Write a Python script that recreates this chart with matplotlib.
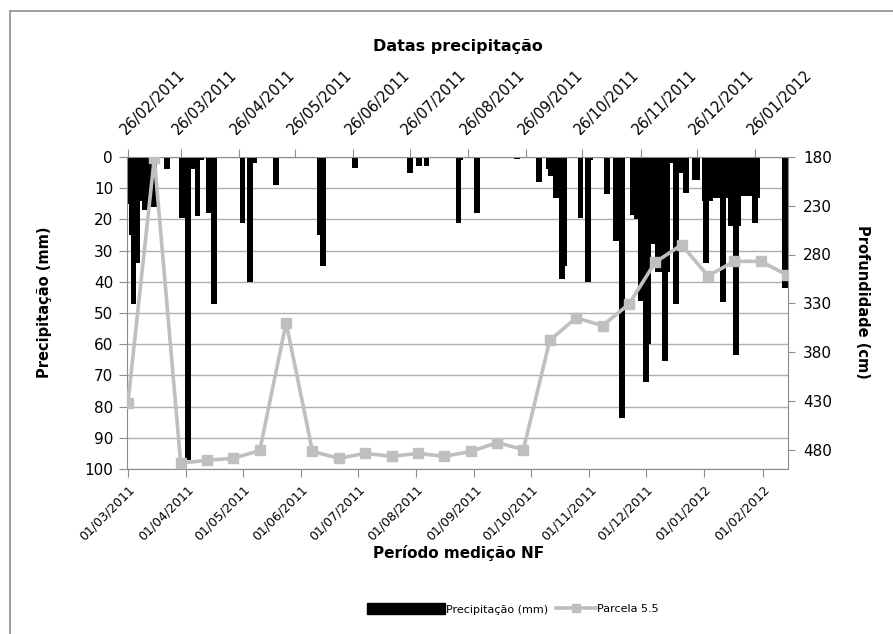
import matplotlib
matplotlib.use("Agg")
import matplotlib.pyplot as plt
import matplotlib.dates as mdates
from matplotlib.patches import Patch, Rectangle
from matplotlib.lines import Line2D
import pandas as pd

plt.rcParams['font.family'] = ['DejaVu Sans']

# precipitação diária (eixo superior / esquerdo)
chuva_datas = [
    "26/02/2011", "27/02/2011", "28/02/2011", "01/03/2011", "02/03/2011", "03/03/2011",
    "04/03/2011", "05/03/2011", "06/03/2011", "07/03/2011", "08/03/2011", "09/03/2011",
    "10/03/2011", "11/03/2011", "12/03/2011", "19/03/2011", "27/03/2011", "30/03/2011",
    "31/03/2011", "01/04/2011", "02/04/2011", "04/04/2011", "06/04/2011", "10/04/2011",
    "13/04/2011", "28/04/2011", "02/05/2011", "04/05/2011", "16/05/2011", "08/06/2011",
    "10/06/2011", "27/06/2011", "26/07/2011", "31/07/2011", "04/08/2011", "21/08/2011",
    "22/08/2011", "31/08/2011", "21/09/2011", "03/10/2011", "08/10/2011", "09/10/2011",
    "12/10/2011", "15/10/2011", "16/10/2011", "25/10/2011", "29/10/2011", "30/10/2011",
    "08/11/2011", "13/11/2011", "16/11/2011", "22/11/2011", "23/11/2011", "24/11/2011",
    "26/11/2011", "27/11/2011", "29/11/2011", "30/11/2011", "02/12/2011", "03/12/2011",
    "04/12/2011", "05/12/2011", "06/12/2011", "07/12/2011", "09/12/2011", "10/12/2011",
    "12/12/2011", "13/12/2011", "15/12/2011", "16/12/2011", "17/12/2011", "18/12/2011",
    "20/12/2011", "25/12/2011", "26/12/2011", "30/12/2011", "31/12/2011", "02/01/2012",
    "05/01/2012", "06/01/2012", "07/01/2012", "08/01/2012", "09/01/2012", "10/01/2012",
    "13/01/2012", "14/01/2012", "16/01/2012", "17/01/2012", "18/01/2012", "20/01/2012",
    "21/01/2012", "22/01/2012", "23/01/2012", "26/01/2012", "27/01/2012", "11/02/2012",
    "12/02/2012",
]
chuva_mm = [
    10, 15, 25, 47, 30, 34,
    14, 10, 10, 17, 17, 12,
    12, 16, 16, 4, 19.5, 97,
    2, 4, 2, 19, 1, 18,
    47, 21, 40, 2, 9, 25,
    35, 3.5, 5, 3, 3, 21,
    1, 18, 0.5, 8, 4, 6,
    13, 39, 35, 19.6, 40, 1,
    12, 27, 83.6, 18.5, 18, 20,
    46, 20, 72, 60, 28, 18,
    20, 37, 37, 20, 65.5, 37,
    2, 2, 47, 2, 2, 5,
    11.5, 7.5, 7.5, 14, 34, 14,
    13, 13, 13, 13, 46.5, 13,
    22, 12, 63.6, 22, 12.5, 12.5,
    11.5, 12.5, 12.5, 21, 13, 42,
    12,
]

# nível freático, Parcela 5.5 (eixo inferior / direito)
nf_datas = [
    "01/03/2011", "15/03/2011", "29/03/2011", "12/04/2011", "26/04/2011", "10/05/2011",
    "24/05/2011", "07/06/2011", "21/06/2011", "05/07/2011", "19/07/2011", "02/08/2011",
    "16/08/2011", "30/08/2011", "13/09/2011", "27/09/2011", "11/10/2011", "25/10/2011",
    "08/11/2011", "22/11/2011", "06/12/2011", "20/12/2011", "03/01/2012", "17/01/2012",
    "31/01/2012", "14/02/2012",
]
parcela_55 = [
    432, 181, 494, 491, 489, 481,
    350, 482, 489, 484, 487, 484,
    487, 482, 473, 480, 368, 345,
    353, 331, 288, 270, 302, 287,
    287, 301,
]

chuva_x = pd.to_datetime(chuva_datas, format="%d/%m/%Y")
nf_x = pd.to_datetime(nf_datas, format="%d/%m/%Y")

cinza = "#8c8c8c"
cinza_linha = "#bfbfbf"

fig = plt.figure(figsize=(8.93, 6.34), dpi=100)
rect = [127 / 893, 1 - 469 / 634, (788 - 127) / 893, (469 - 157) / 634]

# barras: eixo x de cima, eixo y da esquerda
ax = fig.add_axes(rect)
meio_dia = pd.Timedelta(hours=12)
ax.bar(chuva_x, chuva_mm, width=3.1, color="black", zorder=2)
ax.set_xlim(chuva_x.min() - meio_dia, chuva_x.max() + meio_dia)
ax.set_ylim(100, 0)
ax.set_yticks(range(0, 101, 10))
ax.yaxis.grid(True, color="#b0b0b0", lw=1)
ax.set_axisbelow(True)
ax.xaxis.tick_top()
ax.xaxis.set_major_locator(mdates.MonthLocator(bymonthday=26))
ax.xaxis.set_major_formatter(mdates.DateFormatter("%d/%m/%Y"))
ax.tick_params(axis="x", which="major", direction="out", length=6, color=cinza,
               labelsize=10.5, pad=8)
ax.tick_params(axis="y", direction="out", length=6, color=cinza, labelsize=11, pad=4)
for lab in ax.get_xticklabels():
    lab.set_rotation(45)
    lab.set_ha("left")
    lab.set_va("bottom")
    lab.set_rotation_mode("anchor")
for s in ["right", "bottom"]:
    ax.spines[s].set_visible(False)
for s in ["left", "top"]:
    ax.spines[s].set_color(cinza)

# linha: eixo x de baixo, eixo y da direita
ax2 = fig.add_axes(rect, zorder=3)
ax2.patch.set_visible(False)
ax2.plot(nf_x, parcela_55, color=cinza_linha, lw=2.6, marker="s", ms=7,
         mfc=cinza_linha, mec=cinza_linha, zorder=3)
ax2.set_xlim(nf_x.min() - meio_dia, nf_x.max() + meio_dia)
ax2.set_ylim(500, 180)
ax2.set_yticks(range(180, 481, 50))
ax2.yaxis.tick_right()
ax2.xaxis.set_major_locator(mdates.MonthLocator(bymonthday=1))
ax2.xaxis.set_major_formatter(mdates.DateFormatter("%d/%m/%Y"))
ax2.tick_params(axis="x", direction="out", length=6, color=cinza, labelsize=9, pad=4)
ax2.tick_params(axis="y", direction="out", length=5, color=cinza, labelsize=11, pad=6)
for lab in ax2.get_xticklabels():
    lab.set_rotation(45)
    lab.set_ha("right")
    lab.set_va("top")
    lab.set_rotation_mode("anchor")
for s in ["left", "top"]:
    ax2.spines[s].set_visible(False)
for s in ["right", "bottom"]:
    ax2.spines[s].set_color(cinza)

# títulos
fig.text(0.513, 1 - 47 / 634, "Datas precipitação", ha="center", va="center",
         fontsize=11.5, fontweight="bold")
fig.text(0.513, 1 - 553 / 634, "Período medição NF", ha="center", va="center",
         fontsize=11, fontweight="bold")
fig.text(45 / 893, 1 - 302 / 634, "Precipitação (mm)", ha="center", va="center",
         rotation=90, fontsize=10.5, fontweight="bold")
fig.text(863 / 893, 1 - 302 / 634, "Profundidade (cm)", ha="center", va="center",
         rotation=270, fontsize=10.5, fontweight="bold")

# legenda (duas partes: a barra é mais larga que a linha)
leg_y = 1 - 609 / 634
fig.legend([Patch(facecolor="black", edgecolor="black")], ["Precipitação (mm)"],
           loc="center right", bbox_to_anchor=(548 / 893, leg_y), frameon=False,
           fontsize=8, handlelength=7, handleheight=1.1, handletextpad=0.1,
           borderpad=0, borderaxespad=0)
fig.legend([Line2D([], [], color=cinza_linha, lw=2.6, marker="s", ms=6,
                   mfc=cinza_linha, mec=cinza_linha)], ["Parcela 5.5"],
           loc="center left", bbox_to_anchor=(556 / 893, leg_y), frameon=False,
           fontsize=8, handlelength=3.6, handletextpad=0.1,
           borderpad=0, borderaxespad=0)

# moldura do gráfico
fig.patches.append(Rectangle((10 / 893, -0.05), 1.0, 1 - 11 / 634 + 0.05,
                             transform=fig.transFigure, fill=False,
                             edgecolor="#8c8c8c", lw=1.2))

fig.savefig("out.png", dpi=100)
